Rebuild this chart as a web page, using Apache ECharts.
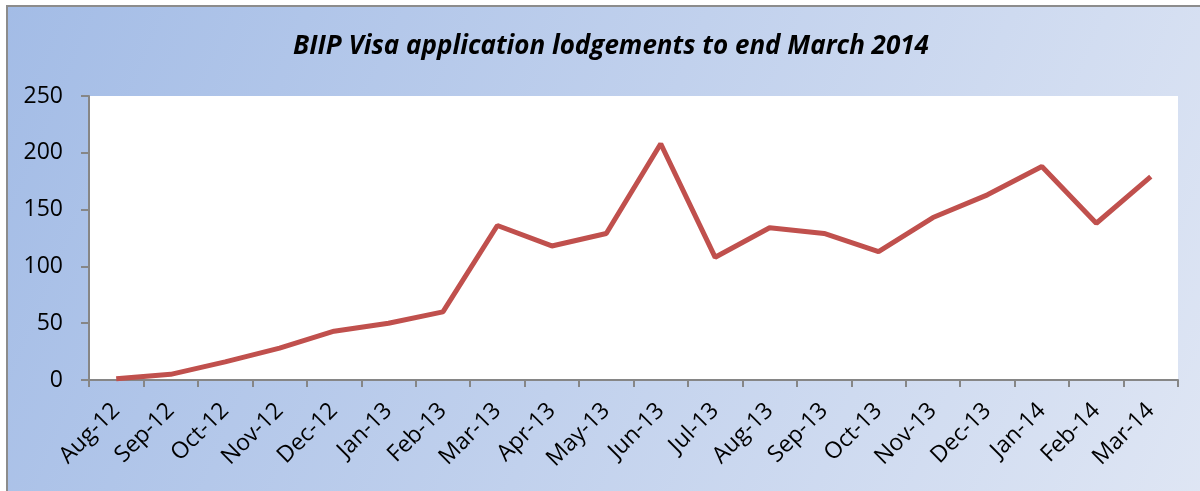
<!DOCTYPE html>
<html>
<head>
<meta charset="utf-8">
<script src="https://cdn.jsdelivr.net/npm/echarts@6/dist/echarts.min.js"></script>
<style>
  html, body { margin: 0; padding: 0; background: #fff; }
  #chart { width: 1200px; height: 491px; }
</style>
</head>
<body>
<div id="chart"></div>
<script>
const months = ['Aug-12', 'Sep-12', 'Oct-12', 'Nov-12', 'Dec-12', 'Jan-13', 'Feb-13', 'Mar-13', 'Apr-13', 'May-13',
  'Jun-13', 'Jul-13', 'Aug-13', 'Sep-13', 'Oct-13', 'Nov-13', 'Dec-13', 'Jan-14', 'Feb-14', 'Mar-14']
const lodgements = [1, 5, 16, 28, 43, 50, 60, 136, 118, 129, 208, 108, 134, 129, 113, 143, 163, 188, 138, 179]
const yTicks = [0, 50, 100, 150, 200, 250]

const font = 'Open Sans'
const chart = echarts.init(document.getElementById('chart'))

chart.setOption({
  animation: false,
  textStyle: { fontFamily: font },
  graphic: [
    {
      type: 'rect',
      z: -10,
      shape: { x: 7, y: 6, width: 1200, height: 500 },
      style: {
        fill: {
          type: 'linear', x: 0, y: 0, x2: 1, y2: 1,
          colorStops: [
            { offset: 0, color: '#a3bce6' },
            { offset: 1, color: '#dfe6f4' },
          ],
        },
        stroke: '#8c8c8c',
        lineWidth: 2,
      },
    },
  ],
  title: {
    text: 'BIIP Visa application lodgements to end March 2014',
    left: 606,
    top: 29,
    textAlign: 'center',
    textStyle: { fontFamily: font, fontSize: 26, fontWeight: 'bold', fontStyle: 'italic', color: '#000' },
  },
  grid: {
    left: 89, right: 22, top: 96, bottom: 111,
    show: true, backgroundColor: '#fff', borderWidth: 0,
  },
  xAxis: {
    type: 'category',
    data: months,
    boundaryGap: true,
    axisLine: { lineStyle: { color: '#868686', width: 2 } },
    axisTick: { show: true, length: 7, lineStyle: { color: '#868686', width: 2 } },
    axisLabel: { rotate: 45, margin: 27, fontFamily: font, fontSize: 23, color: '#000' },
  },
  yAxis: {
    type: 'value',
    min: yTicks[0],
    max: yTicks[yTicks.length - 1],
    interval: yTicks[1] - yTicks[0],
    axisLine: { show: true, lineStyle: { color: '#868686', width: 2 } },
    axisTick: { show: true, length: 8, lineStyle: { color: '#868686', width: 2 } },
    axisLabel: { margin: 26, fontFamily: font, fontSize: 23, color: '#000' },
    splitLine: { show: false },
  },
  series: [
    {
      type: 'line',
      data: lodgements,
      symbol: 'none',
      lineStyle: { color: '#c0504d', width: 5 },
    },
  ],
})
</script>
</body>
</html>
